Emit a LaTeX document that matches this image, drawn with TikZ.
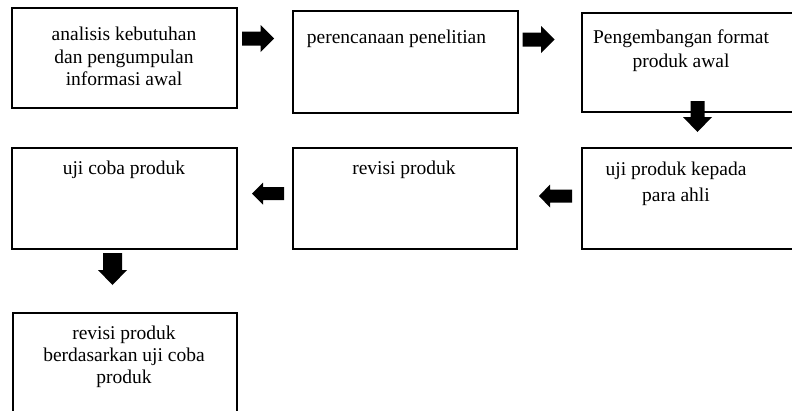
\documentclass[tikz,border=0pt]{standalone}
\usepackage{fontspec}
\setmainfont{Liberation Serif}
\begin{document}
\begin{tikzpicture}[x=1pt,y=-1pt,
  box/.style={draw=black, line width=1.6pt, inner sep=0pt, anchor=north west},
  lbl/.style={inner sep=0pt, align=center, anchor=north, font=\fontsize{19.5}{#1}\selectfont},
  lbl/.default={22.5},
  pics/barrow/.style n args={4}{code={
    \fill[black] (-#1/2,-#2/2) -- (#1/2-#4,-#2/2) -- (#1/2-#4,-#3/2) -- (#1/2,0)
      -- (#1/2-#4,#3/2) -- (#1/2-#4,#2/2) -- (-#1/2,#2/2) -- cycle;
  }}
]
\path[use as bounding box, clip] (0,0) rectangle (792,410);
\fill[white] (0,0) rectangle (792,410);
% boxes
\node[box, minimum width=225, minimum height=100] (b1) at (11,7) {};
\node[box, minimum width=225, minimum height=102] (b2) at (292,10) {};
\node[box, minimum width=230, minimum height=99] (b3) at (581,12) {};
\node[box, minimum width=230, minimum height=101] (b6) at (581,147) {};
\node[box, minimum width=224, minimum height=101] (b5) at (292,147) {};
\node[box, minimum width=225, minimum height=101] (b4) at (11,147) {};
\node[box, minimum width=224, minimum height=120] (b7) at (12,312) {};
% texts
\node[lbl] (t1) at (124,27) {analisis kebutuhan\\dan pengumpulan\\informasi awal};
\node[lbl] (t2) at (396.5,30) {perencanaan penelitian};
\node[lbl=24.5] (t3) at (681,29.5) {Pengembangan format\\produk awal};
\node[lbl=25.5] (t6) at (676,162) {uji produk kepada\\para ahli};
\node[lbl] (t5) at (404,160.5) {revisi produk};
\node[lbl] (t4) at (124,160.5) {uji coba produk};
\node[lbl=22] (t7) at (124,326) {revisi produk\\berdasarkan uji coba\\produk};
% block arrows
\coordinate (a1) at (258,38.5);
\coordinate (a2) at (538.5,39.5);
\coordinate (a3) at (697.5,116.5);
\coordinate (a4) at (555.5,196);
\coordinate (a5) at (268,193.5);
\coordinate (a6) at (112.5,269);
\pic at (a1) {barrow={32}{14}{27}{13.5}};
\pic at (a2) {barrow={32}{14}{27}{13.5}};
\pic[rotate=-90] at (a3) {barrow={31}{14}{29}{15}};
\pic[rotate=180] at (a4) {barrow={33}{13}{23}{11}};
\pic[rotate=180] at (a5) {barrow={32}{13}{22}{11}};
\pic[rotate=-90] at (a6) {barrow={32}{19}{29}{15}};
\end{tikzpicture}
\end{document}
